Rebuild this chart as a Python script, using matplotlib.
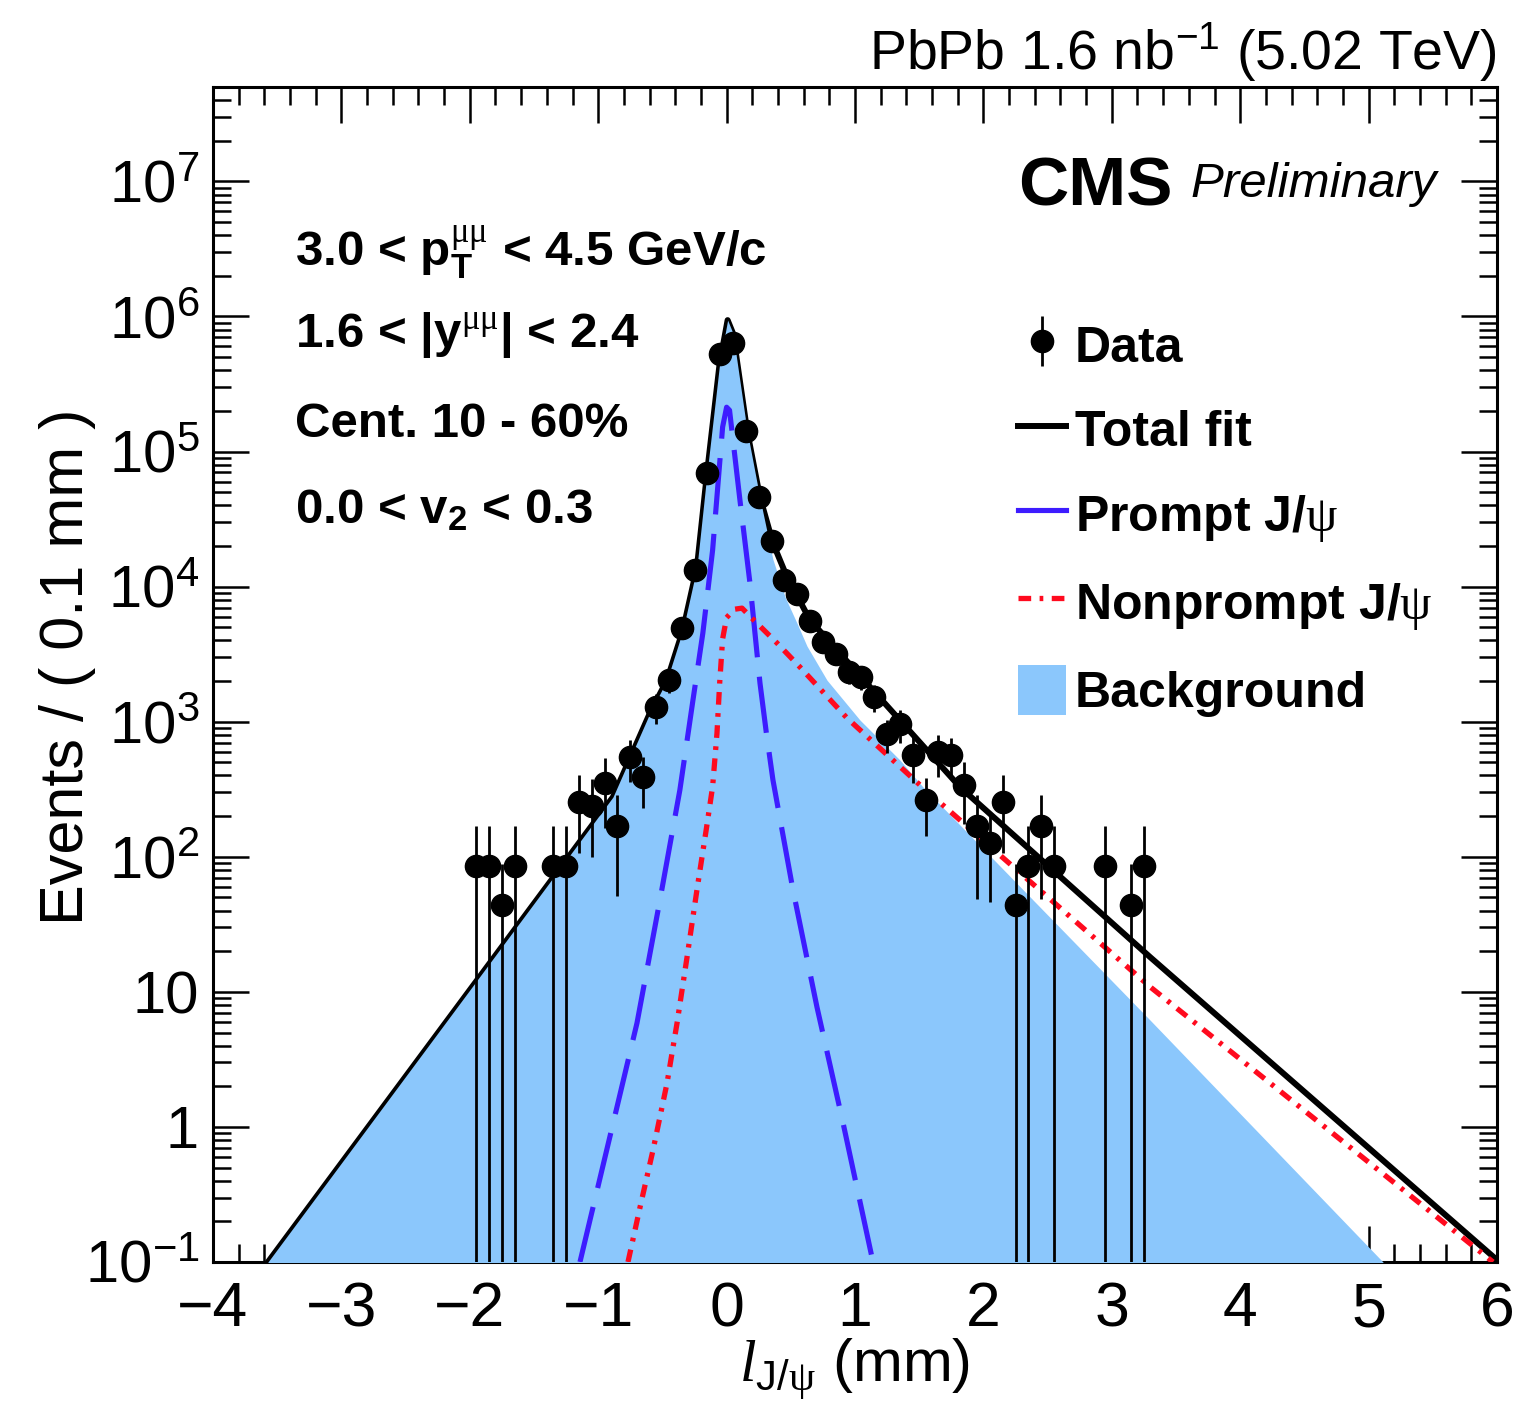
import math

import matplotlib
matplotlib.use("Agg")
import matplotlib.pyplot as plt
import matplotlib.patches as mpatches
from matplotlib.lines import Line2D
from matplotlib.ticker import MultipleLocator, FixedLocator, FuncFormatter, NullFormatter

plt.rcParams['font.family'] = ['Liberation Sans', 'DejaVu Sans']
plt.rcParams['mathtext.fontset'] = 'custom'
plt.rcParams['mathtext.rm'] = 'Liberation Sans'
plt.rcParams['mathtext.it'] = 'Liberation Serif:italic'
plt.rcParams['mathtext.bf'] = 'Liberation Sans:bold'
plt.rcParams['mathtext.sf'] = 'Liberation Serif'  # used for the greek letters
plt.rcParams['mathtext.default'] = 'regular'

# --- data points (l_J/psi bin centres, events / 0.1 mm, error) ---
data_x = [-1.95, -1.85, -1.75, -1.65, -1.35, -1.25, -1.15, -1.05, -0.95, -0.85,
          -0.75, -0.65, -0.55, -0.45, -0.35, -0.25, -0.15, -0.05, 0.05, 0.15,
          0.25, 0.35, 0.45, 0.55, 0.65, 0.75, 0.85, 0.95, 1.05, 1.15,
          1.25, 1.35, 1.45, 1.55, 1.65, 1.75, 1.85, 1.95, 2.05, 2.15,
          2.25, 2.35, 2.45, 2.55, 2.95, 3.15, 3.25]
data_y = [85, 85, 44, 85, 85, 85, 254, 237, 351, 169,
          547, 389, 1282, 2032, 4932, 13250, 69200, 526000, 634000, 141600,
          45900, 21700, 11170, 8800, 5560, 3880, 3165, 2330, 2140, 1520,
          809, 960, 566, 263, 596, 566, 339, 169, 126, 254,
          44, 85, 169, 85, 85, 44, 85]
data_err = [85, 85, 44, 85, 85, 85, 148, 138, 187, 118,
            190, 160, 320, 400, 640, 1050, 2400, 6700, 7300, 3500,
            2000, 1350, 980, 870, 690, 570, 520, 440, 420, 350,
            220, 260, 215, 120, 205, 190, 163, 120, 80, 148,
            44, 85, 120, 85, 85, 44, 85]

# --- fit curves ---
total_x = [-3.572, -0.885, -0.597, -0.464, -0.340, -0.231, -0.156, -0.054, 0.008,
           0.05, 0.159, 0.26, 0.361, 0.47, 0.65, 1.05, 1.818, 3.298, 6.0]
total_y = [0.1, 277, 1160, 2030, 4770, 13900, 64600, 450000, 940000,
           750000, 144000, 45900, 21000, 11800, 5650, 2130, 328, 18.1, 0.1035]

bkg_x = [-3.572, -0.885, -0.597, -0.464, -0.340, -0.231, -0.156, -0.054, 0.008,
         0.05, 0.159, 0.26, 0.36, 0.456, 0.548, 0.626, 0.782, 1.039, 1.35, 1.53, 3.298, 5.112]
bkg_y = [0.1, 277, 1160, 2030, 4770, 13900, 64600, 450000, 940000,
         750000, 144000, 45000, 16000, 8360, 5370, 3630, 2030, 1028, 520, 328, 6.18, 0.1]

prompt_x = [-1.142, -0.854, -0.698, -0.519, -0.364, -0.262, -0.185, -0.109, -0.031, 0.0,
            0.023, 0.104, 0.182, 0.26, 0.31, 0.361, 0.517, 0.704, 0.907, 1.14]
prompt_y = [0.1, 1.40, 5.87, 47.9, 312, 1445, 4530, 18600, 152000, 213000,
            202000, 43600, 10600, 1930, 820, 370, 56.8, 7.7, 1.07, 0.1]

nonprompt_x = [-0.768, -0.674, -0.573, -0.464, -0.386, -0.308, -0.231, -0.156, -0.109,
               -0.075, -0.054, -0.031, 0.0, 0.06, 0.12, 0.2, 0.393, 0.571, 0.938,
               1.506, 3.298, 5.969]
nonprompt_y = [0.1, 0.255, 0.674, 2.11, 5.87, 18.1, 56.8, 165, 330,
               820, 1930, 4100, 5900, 6800, 6930, 5800, 3820, 2540, 1064,
               340, 10.9, 0.1]

y_major = [0.1, 1, 10, 1e2, 1e3, 1e4, 1e5, 1e6, 1e7]

cut_lines = [r"3.0 < $\mathbf{p}_{\mathbf{T}}^{\mathsf{\mu\mu}}$ < 4.5 GeV/c",
             r"1.6 < |$\mathbf{y}^{\mathsf{\mu\mu}}$| < 2.4",
             "Cent. 10 - 60%",
             r"0.0 < $\mathbf{v}_{\mathbf{2}}$ < 0.3"]

bkg_color = '#8bc7fc'
prompt_color = '#3d1cff'
np_color = '#ff0a1e'

W, H = 1531, 1406
fig = plt.figure(figsize=(W / 100, H / 100), dpi=100)
ax = fig.add_axes([213 / W, 1 - 1262 / H, (1497 - 213) / W, (1262 - 87) / H])

tot_line, = ax.plot(total_x, total_y, color='black', lw=4.3, zorder=2)
ax.fill_between(bkg_x, 1e-3, bkg_y, color=bkg_color, lw=0, zorder=3)
pr_line, = ax.plot(prompt_x, prompt_y, color=prompt_color, lw=3.7,
                   dashes=(11, 3.8), zorder=4)
np_line, = ax.plot(nonprompt_x, nonprompt_y, color=np_color, lw=3.8,
                   dashes=(2.4, 1.6, 0.7, 1.6), zorder=5)
eb = ax.errorbar(data_x, data_y, yerr=data_err, fmt='o', color='black', ms=16,
                 elinewidth=2, capsize=0, zorder=6)

ax.set_yscale('log')
ax.set_xlim(-4, 6)
ax.set_ylim(0.1, 5e7)

ax.xaxis.set_major_locator(MultipleLocator(1))
ax.xaxis.set_minor_locator(MultipleLocator(0.2))
ax.yaxis.set_major_locator(FixedLocator(y_major))
ax.yaxis.set_minor_locator(FixedLocator([m * d for d in y_major for m in range(2, 10)
                                         if m * d < 5e7]))
ax.yaxis.set_minor_formatter(NullFormatter())


def ylab(v, pos):
    if abs(v - 1) < 1e-9:
        return '1'
    if abs(v - 10) < 1e-6:
        return '10'
    e = int(round(math.log10(v)))
    return r'$10^{%d}$' % e


ax.yaxis.set_major_formatter(FuncFormatter(ylab))
ax.tick_params(which='both', direction='in', top=True, right=True, width=1.8)
ax.tick_params(which='major', length=26)
ax.tick_params(which='minor', length=13)
ax.tick_params(axis='x', which='major', pad=13, labelsize=45)
ax.tick_params(axis='y', which='major', pad=10, labelsize=43)
for s in ax.spines.values():
    s.set_linewidth(2.2)

# labels
fig.text(68 / W, 1 - 667 / H, 'Events / ( 0.1 mm )', rotation=90,
         ha='center', va='center', fontsize=44)
fig.text(855 / W, 1 - 1382 / H, r'$\mathit{l}_{\mathrm{J/}\mathsf{\psi}}$ (mm)',
         ha='center', va='baseline', fontsize=43)
fig.text(1497 / W, 1 - 70 / H, r'PbPb 1.6 nb$^{-1}$ (5.02 TeV)',
         ha='right', va='baseline', fontsize=40)
fig.text(1018 / W, 1 - 205 / H, 'CMS', ha='left', va='baseline',
         fontsize=50, fontweight='bold')
fig.text(1190 / W, 1 - 197 / H, 'Preliminary', ha='left', va='baseline',
         fontsize=35.5, fontstyle='italic')

baselines = [265, 348, 437, 523]
for txt, b in zip(cut_lines, baselines):
    fig.text(295 / W, 1 - b / H, txt, ha='left', va='baseline',
             fontsize=35.5, fontweight='bold')

bkg_patch = mpatches.Patch(color=bkg_color, lw=0)
handles = [eb, tot_line,
           Line2D([], [], color=prompt_color, lw=3.7),
           np_line, bkg_patch]
labels = ['Data', 'Total fit', r'Prompt J/$\mathsf{\psi}$',
          r'Nonprompt J/$\mathsf{\psi}$', 'Background']
ax.legend(handles, labels, loc='upper left',
          bbox_to_anchor=(1018 / W, 1 - 320 / H), bbox_transform=fig.transFigure,
          frameon=False, borderpad=0, borderaxespad=0,
          prop={'weight': 'bold', 'size': 36},
          handlelength=0.96, handleheight=1.15, handletextpad=0.18,
          labelspacing=0.66)

fig.savefig('out.png', dpi=100)
